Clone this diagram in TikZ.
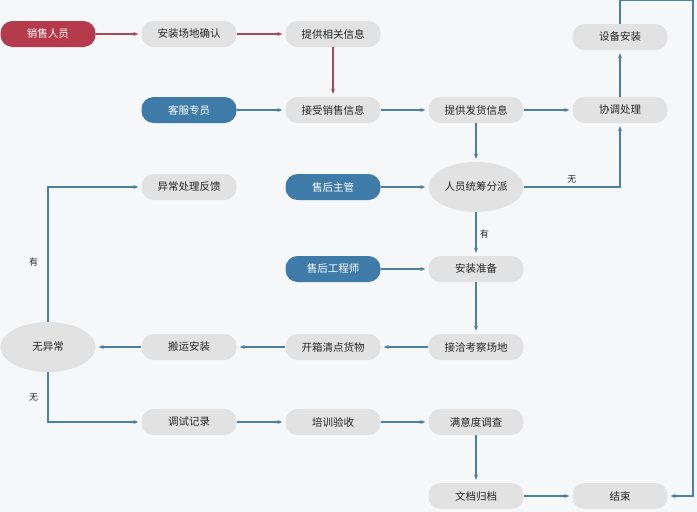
\documentclass[tikz,border=0pt]{standalone}
\usepackage{fontspec}
\newfontfamily\cjk{Noto Sans CJK SC}
\usetikzlibrary{arrows.meta,shapes.geometric}
\definecolor{bg}{HTML}{F6F7F9}
\definecolor{gbox}{HTML}{E2E2E2}
\definecolor{redb}{HTML}{B53A4C}
\definecolor{blueb}{HTML}{3F7BA9}
\definecolor{eb}{HTML}{4A7FA6}
\definecolor{er}{HTML}{A8495A}
\tikzset{
 box/.style={rounded corners=12pt,minimum width=95pt,minimum height=26pt,fill=gbox,font=\cjk\fontsize{10.5}{12}\selectfont,text=black!85,inner sep=0},
 rbox/.style={box,fill=redb,text=white},
 bbox/.style={box,fill=blueb,text=white},
 ebox/.style={ellipse,fill=gbox,minimum width=95pt,minimum height=50pt,font=\cjk\fontsize{10.5}{12}\selectfont,text=black!85,inner sep=0},
 ar/.style={draw=eb,line width=1.2pt,shorten >=3pt,-{Stealth[length=5pt,width=4pt]}},
 arr/.style={ar,draw=er},
 lab/.style={font=\cjk\fontsize{9}{11}\selectfont,text=black!85}
}
\begin{document}
\begin{tikzpicture}[x=1pt,y=-1pt]
\fill[bg] (0,0) rectangle (697,512);
\useasboundingbox (0,0) rectangle (697,512);
\node[rbox] (xs) at (48,34) {销售人员};
\node[box] (az) at (189,34) {安装场地确认};
\node[box] (tx) at (333,34) {提供相关信息};
\node[bbox] (kf) at (189,110) {客服专员};
\node[box] (js) at (333,110) {接受销售信息};
\node[box] (fh) at (476,110) {提供发货信息};
\node[box] (xt) at (620,110) {协调处理};
\node[box] (sb) at (620,37) {设备安装};
\node[bbox] (zg) at (333,187) {售后主管};
\node[ebox] (ry) at (476,187) {人员统筹分派};
\node[box] (yc) at (189,187) {异常处理反馈};
\node[bbox] (gc) at (333,269) {售后工程师};
\node[box] (zb) at (476,269) {安装准备};
\node[box] (jq) at (476,347) {接洽考察场地};
\node[box] (kx) at (333,347) {开箱清点货物};
\node[box] (by) at (189,347) {搬运安装};
\node[ebox] (wy) at (48,347) {无异常};
\node[box] (ts) at (189,422) {调试记录};
\node[box] (px) at (333,422) {培训验收};
\node[box] (my) at (476,422) {满意度调查};
\node[box] (wd) at (476,496) {文档归档};
\node[box] (js2) at (620,496) {结束};
\coordinate (c1) at (693,0);
\coordinate (c2) at (693,496);
\draw[arr] (xs) -- (az);
\draw[arr] (az) -- (tx);
\draw[arr] (tx) -- (js);
\draw[ar] (kf) -- (js);
\draw[ar] (js) -- (fh);
\draw[ar] (fh) -- (xt);
\draw[ar] (xt) -- (sb);
\draw[ar] (fh) -- (ry);
\draw[ar] (zg) -- (ry);
\draw[ar] (ry.east) -| node[lab,pos=0.25,above]{无} (xt);
\draw[ar] (ry) -- node[lab,right,pos=0.5]{有} (zb);
\draw[ar] (gc) -- (zb);
\draw[ar] (zb) -- (jq);
\draw[ar] (jq) -- (kx);
\draw[ar] (kx) -- (by);
\draw[ar] (by) -- (wy);
\draw[ar] (wy) |- node[lab,pos=0.22,left=6pt]{有} (yc);
\draw[ar] (wy) |- node[lab,pos=0.25,left=6pt]{无} (ts);
\draw[ar] (ts) -- (px);
\draw[ar] (px) -- (my);
\draw[ar] (my) -- (wd);
\draw[ar] (wd) -- (js2);
\draw[ar] (sb.north) -- (sb.north |- c1) -- (c1) -- (c2) -- (js2);
\end{tikzpicture}
\end{document}
